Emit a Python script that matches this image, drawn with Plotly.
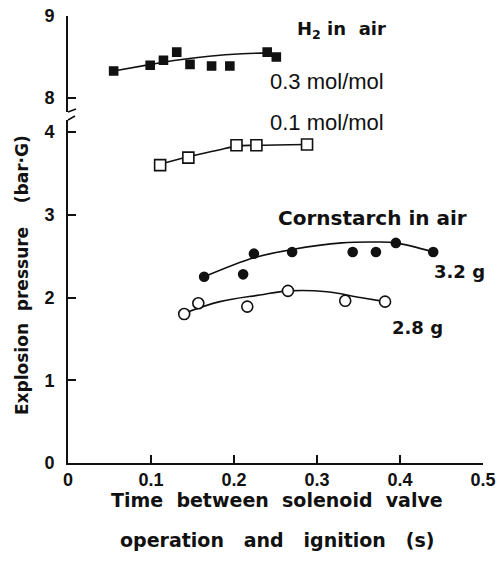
import plotly.graph_objects as go

# ---- data ----
# H2 in air, 0.3 mol/mol (upper broken-axis panel)
h2_03_t = [0.055, 0.099, 0.115, 0.131, 0.147, 0.173, 0.195, 0.240, 0.251]
h2_03_p = [8.33, 8.40, 8.46, 8.56, 8.41, 8.39, 8.39, 8.56, 8.50]
h2_03_fit_t = [0.055, 0.100, 0.130, 0.170, 0.210, 0.245]
h2_03_fit_p = [8.33, 8.41, 8.46, 8.51, 8.54, 8.55]

# H2 in air, 0.1 mol/mol
h2_01_t = [0.111, 0.145, 0.203, 0.227, 0.288]
h2_01_p = [3.60, 3.69, 3.84, 3.84, 3.85]
h2_01_fit_t = [0.111, 0.145, 0.180, 0.203, 0.227, 0.288]
h2_01_fit_p = [3.61, 3.70, 3.78, 3.83, 3.84, 3.85]

# Cornstarch in air, 3.2 g
cs32_t = [0.164, 0.211, 0.224, 0.270, 0.343, 0.371, 0.395, 0.440]
cs32_p = [2.25, 2.28, 2.53, 2.55, 2.55, 2.55, 2.66, 2.55]
cs32_fit_t = [0.164, 0.224, 0.270, 0.330, 0.370, 0.395, 0.440]
cs32_fit_p = [2.25, 2.48, 2.58, 2.66, 2.67, 2.66, 2.55]

# Cornstarch in air, 2.8 g
cs28_t = [0.140, 0.157, 0.216, 0.265, 0.334, 0.382]
cs28_p = [1.80, 1.93, 1.89, 2.08, 1.96, 1.95]
cs28_fit_t = [0.140, 0.183, 0.231, 0.265, 0.312, 0.352, 0.382]
cs28_fit_p = [1.81, 1.95, 2.03, 2.08, 2.07, 2.00, 1.95]

x_ticks = [0, 0.1, 0.2, 0.3, 0.4, 0.5]
x_tick_text = ["0", "0.1", "0.2", "0.3", "0.4", "0.5"]
y_low_ticks = [0, 1, 2, 3, 4]
y_high_ticks = [8, 9]

FONT = "Liberation Sans"
BOLDFONT = "DejaVu Sans"
BLACK = "#111111"

fig = go.Figure()

def fit(t, p, yax):
    fig.add_trace(go.Scatter(x=t, y=p, mode="lines", yaxis=yax,
                             line=dict(color=BLACK, width=1.6, shape="spline"),
                             showlegend=False, hoverinfo="skip"))

def pts(t, p, yax, symbol, size, fill):
    fig.add_trace(go.Scatter(x=t, y=p, mode="markers", yaxis=yax,
                             marker=dict(symbol=symbol, size=size, color=fill,
                                         line=dict(color=BLACK, width=1.6)),
                             showlegend=False))

fit(h2_03_fit_t, h2_03_fit_p, "y2")
pts(h2_03_t, h2_03_p, "y2", "square", 8, BLACK)
fit(h2_01_fit_t, h2_01_fit_p, "y")
pts(h2_01_t, h2_01_p, "y", "square", 11, "white")
fit(cs32_fit_t, cs32_fit_p, "y")
pts(cs32_t, cs32_p, "y", "circle", 9, BLACK)
fit(cs28_fit_t, cs28_fit_p, "y")
pts(cs28_t, cs28_p, "y", "circle", 11, "white")

tickfont = dict(family=FONT, size=18, color=BLACK, weight="bold")

common = dict(showgrid=False, zeroline=False, showline=True, linecolor=BLACK,
              linewidth=1.6, ticks="inside", ticklen=8, tickwidth=1.6,
              tickcolor=BLACK, tickfont=tickfont, automargin=False)

fig.update_layout(
    width=499, height=565,
    margin=dict(l=68, r=16, t=16, b=102),
    paper_bgcolor="white", plot_bgcolor="white",
    font=dict(family=FONT, color=BLACK),
    xaxis=dict(range=[0, 0.5], tickvals=x_ticks, ticktext=x_tick_text,
               anchor="y", ticklabelstandoff=0, **common),
    yaxis=dict(domain=[0, 0.7673], range=[0, 4.145], tickvals=y_low_ticks,
               anchor="x", ticklabelstandoff=8, **common),
    yaxis2=dict(domain=[0.7852, 1], range=[7.829, 9], tickvals=y_high_ticks,
                anchor="x", ticklabelstandoff=8, **common),
)

# break marks on the left spine
def px2paper(px, py):
    return (px - 68) / 415.0, (463 - py) / 447.0

for (x0, y0, x1, y1) in [(68, 112, 76, 109), (68, 120, 75, 116)]:
    a, b = px2paper(x0, y0)
    c, d = px2paper(x1, y1)
    fig.add_shape(type="line", xref="paper", yref="paper", x0=a, y0=b, x1=c, y1=d,
                  line=dict(color=BLACK, width=1.6))

ann_font_b = dict(family=BOLDFONT, size=18, color=BLACK, weight="bold")
ann_font_c = dict(family=BOLDFONT, size=20, color=BLACK, weight="bold")
ann_font = dict(family=FONT, size=22, color=BLACK)

def ann(text, x, y, yref, font):
    fig.add_annotation(text=text, x=x, y=y, xref="x", yref=yref, showarrow=False,
                       xanchor="left", yanchor="middle", font=font)

ann("H<sub>2</sub> in  air", 0.274, 8.83, "y2", ann_font_b)
ann("0.3 mol/mol", 0.241, 8.20, "y2", ann_font)
ann("0.1 mol/mol", 0.241, 4.11, "y", ann_font)
ann("Cornstarch in air", 0.250, 2.96, "y", ann_font_c)
ann("3.2 g", 0.438, 2.31, "y", ann_font_b)
ann("2.8 g", 0.388, 1.64, "y", ann_font_b)

title_font = dict(family=BOLDFONT, size=17, color=BLACK, weight="bold")
fig.add_annotation(text="Explosion  pressure    (bar·G)", xref="paper", yref="paper",
                   x=(22 - 68) / 415.0, y=(463 - 275) / 447.0, textangle=-90,
                   showarrow=False, xanchor="center", yanchor="middle", font=title_font)
title_font2 = dict(family=BOLDFONT, size=19, color=BLACK, weight="bold")
fig.add_annotation(text="Time  between  solenoid  valve", xref="paper", yref="paper",
                   x=(277 - 68) / 415.0, y=(463 - 500) / 447.0, showarrow=False,
                   xanchor="center", yanchor="middle", font=title_font2)
fig.add_annotation(text="operation   and   ignition   (s)", xref="paper", yref="paper",
                   x=(277 - 68) / 415.0, y=(463 - 540) / 447.0, showarrow=False,
                   xanchor="center", yanchor="middle", font=title_font2)

fig.write_html("out.html", config={"displayModeBar": False},
               post_script="document.body.style.margin='0';")
